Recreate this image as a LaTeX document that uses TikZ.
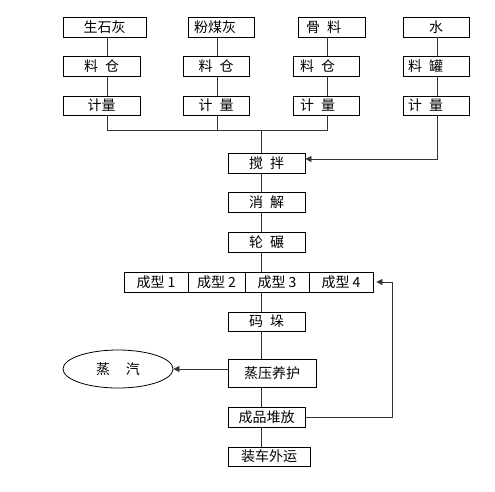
\documentclass[tikz,border=0pt]{standalone}
\usepackage{fontspec}
\newfontfamily\cjk{Noto Sans CJK SC}
\usetikzlibrary{arrows.meta,shapes.geometric}
\newcommand\mysp{\hspace{7pt}}
\begin{document}
\begin{tikzpicture}[x=1pt,y=-1pt,
  font=\cjk\fontsize{14}{16}\selectfont,
  box/.style={draw, line width=0.8pt, inner sep=0pt, minimum height=20pt},
  lbox/.style={box, align=left, text width=#1},
  ln/.style={line width=0.8pt, draw=black!80},
  arr/.style={ln, -{Triangle[length=6pt,width=6pt]}}]
\useasboundingbox (0,0) rectangle (495,491);
% columns
\coordinate (c1) at (107,0);
\coordinate (c2) at (217,0);
\coordinate (c3) at (327,0);
\coordinate (c4) at (437,0);
\coordinate (sp) at (261,0);
\coordinate (hl) at (0,130);
\coordinate (rl) at (392,0);
% row 1
\node[box, minimum width=83pt] (r1a) at (104.5,27) {生石灰};
\node[lbox=54pt, minimum width=66pt] (r1b) at (221,27) {粉煤灰};
\node[lbox=51pt, minimum width=67pt] (r1c) at (331.5,27) {骨\mysp 料};
\node[box, minimum width=66pt] (r1d) at (436,27) {水};
% row 2
\node[box, minimum width=77pt] (r2a) at (101.5,66) {料\mysp 仓};
\node[box, minimum width=66pt] (r2b) at (216,66) {料\mysp 仓};
\node[lbox=52pt, minimum width=66pt] (r2c) at (326,66) {料\mysp 仓};
\node[lbox=56pt, minimum width=66pt] (r2d) at (436,66) {料\mysp 罐};
% row 3
\node[box, minimum width=77pt, minimum height=19pt] (r3a) at (101.5,105.5) {计量};
\node[box, minimum width=66pt, minimum height=19pt] (r3b) at (216,105.5) {计\mysp 量};
\node[lbox=52pt, minimum width=66pt, minimum height=19pt] (r3c) at (326,105.5) {计\mysp 量};
\node[lbox=56pt, minimum width=66pt, minimum height=19pt] (r3d) at (436,105.5) {计\mysp 量};
% main chain
\node[box, minimum width=77pt] (jb) at (266.5,163) {搅\mysp 拌};
\node[box, minimum width=77pt] (xj) at (266.5,202) {消\mysp 解};
\node[box, minimum width=77pt] (ln) at (266.5,242) {轮\mysp 碾};
\node[box, minimum width=64pt] (cx1) at (156,282) {成型 1};
\node[box, minimum width=57pt] (cx2) at (216.5,282) {成型 2};
\node[box, minimum width=64pt] (cx3) at (277,282) {成型 3};
\node[box, minimum width=64pt] (cx4) at (341,282) {成型 4};
\node[box, minimum width=77pt, minimum height=19pt] (md) at (266.5,321.5) {码\mysp 垛};
\node[box, minimum width=88pt, minimum height=28pt] (zy) at (272,373) {蒸压养护};
\node[draw, line width=0.8pt, ellipse, inner sep=0pt, minimum width=110pt, minimum height=38pt] (qi) at (118,369) {蒸\hspace{16pt}汽};
\node[box, minimum width=77pt] (cp) at (266.5,417) {成品堆放};
\node[box, minimum width=82pt, minimum height=19pt] (zc) at (269,456.5) {装车外运};
% top connectors
\foreach \a/\b/\c in {r1a/r2a/c1, r1b/r2b/c2, r1c/r2c/c3, r1d/r2d/c4, r2a/r3a/c1, r2b/r3b/c2, r2c/r3c/c3, r2d/r3d/c4}
  \draw[ln] (\a.south -| \c) -- (\b.north -| \c);
\draw[ln] (r3a.south -| c1) -- (c1 |- hl) -- (c3 |- hl) -- (r3c.south -| c3);
\draw[ln] (r3b.south -| c2) -- (c2 |- hl);
\draw[ln] (sp |- hl) -- (jb.north -| sp);
\draw[arr] (r3d.south -| c4) |- ([yshift=4pt]jb.east);
% spine
\draw[ln] (jb.south -| sp) -- (xj.north -| sp);
\draw[ln] (xj.south -| sp) -- (ln.north -| sp);
\draw[ln] (ln.south -| sp) -- (cx3.north -| sp);
\draw[ln] (cx3.south -| sp) -- (md.north -| sp);
\draw[ln] (md.south -| sp) -- (zy.north -| sp);
\draw[ln] (zy.south -| sp) -- (cp.north -| sp);
\draw[ln] (cp.south -| sp) -- (zc.north -| sp);
% side arrows
\draw[arr] ([yshift=4pt]zy.west) -- (qi.east);
\draw[arr, shorten >=3pt] (cp.east) -| (rl |- cx4.east) -- (cx4.east);
\end{tikzpicture}
\end{document}
